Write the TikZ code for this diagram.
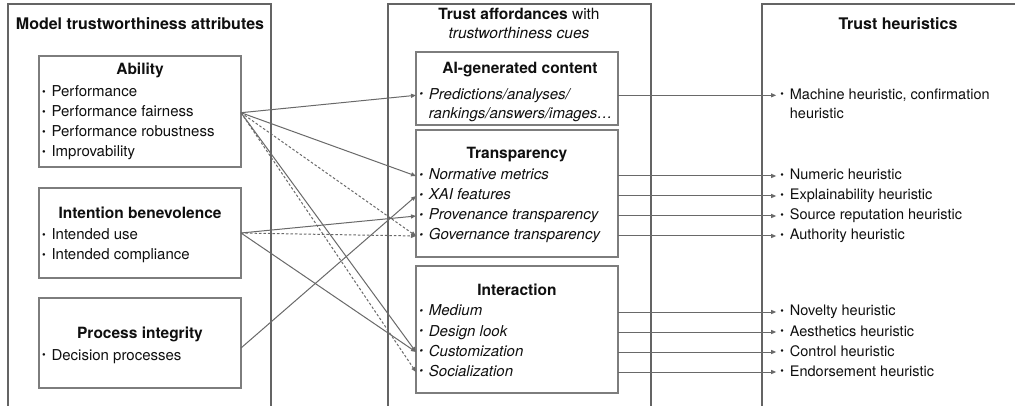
\documentclass[tikz,border=0pt]{standalone}
\usepackage{fontspec}
\setmainfont{TeX Gyre Heros}
\usepackage{graphicx}
\usepackage{xcolor}
\usetikzlibrary{arrows.meta, calc}
\definecolor{framegray}{RGB}{100,100,100}
\definecolor{boxgray}{RGB}{125,125,125}
\definecolor{linkgray}{RGB}{105,105,105}
\definecolor{inkblack}{RGB}{15,15,15}
\newcommand{\bul}{\makebox[9.5pt][l]{\raisebox{1.4pt}{\scalebox{0.7}{\textbullet}}}}

\begin{document}
\begin{tikzpicture}[
    x=1pt, y=-1pt,
    text=inkblack,
    panel/.style={draw=framegray, line width=1.7pt},
    groupbox/.style={rectangle, draw=boxgray, line width=1.2pt, inner sep=0pt, outer sep=0pt},
    paneltitle/.style={anchor=base, inner sep=0pt, font=\fontsize{16}{19}\selectfont\bfseries},
    boxtitle/.style={anchor=base, inner sep=0pt, font=\fontsize{15.5}{20}\selectfont\bfseries},
    item/.style={anchor=base west, inner sep=0pt, text height=11pt, text depth=3pt, font=\fontsize{15}{20}\selectfont},
    cue/.style={item, font=\fontsize{15}{20}\selectfont\itshape},
    heur/.style={item, inner xsep=4pt, font=\fontsize{14.5}{20}\selectfont},
    heurcont/.style={item, font=\fontsize{14.5}{20}\selectfont},
    link/.style={draw=linkgray, line width=1pt, -{Triangle[length=5pt, width=4pt]}},
    dashlink/.style={link, dash pattern=on 2.5pt off 2pt}
]

\fill[white] (0,0) rectangle (1015,406);
\useasboundingbox (0,0) rectangle (1015,406);

% Panels
\draw[panel] (8,410) -- (8,4) -- (271,4) -- (271,410);
\draw[panel] (388,410) -- (388,4) -- (651,4) -- (651,410);
\draw[panel] (762,410) -- (762,4) -- (1020,4);

\node[paneltitle] (attrtitle) at (140,29.3) {Model trustworthiness attributes};
\node[paneltitle, font=\fontsize{15.5}{19}\selectfont] (afftitle) at (519,19.3) {\textbf{Trust affordances} with};
\node[paneltitle, font=\fontsize{15.5}{19}\selectfont\itshape] (afftitleb) at (519,38.3) {trustworthiness cues};
\node[paneltitle] (heurtitle) at (898,29.3) {Trust heuristics};

% Attribute boxes
\node[groupbox, minimum width=202pt, minimum height=111pt] (ability) at (140,111.5) {};
\node[boxtitle] at (140,75) {Ability};
\node[item] (perf) at (41.8,96.7) {\bul Performance};
\node[item] (pfair) at (41.8,116.7) {\bul Performance fairness};
\node[item] (probust) at (41.8,136.7) {\bul Performance robustness};
\node[item] (improv) at (41.8,156.7) {\bul Improvability};

\node[groupbox, minimum width=202pt, minimum height=90pt] (intention) at (140,233) {};
\node[boxtitle] at (140,218.3) {Intention benevolence};
\node[item] (intuse) at (41.8,240) {\bul Intended use};
\node[item] (intcomp) at (41.8,260) {\bul Intended compliance};

\node[groupbox, minimum width=202pt, minimum height=90pt] (process) at (140,343) {};
\node[boxtitle] at (140,338.3) {Process integrity};
\node[item] (decision) at (41.8,360) {\bul Decision processes};

% Affordance boxes
\node[groupbox, minimum width=202pt, minimum height=73pt] (aicont) at (517,88.5) {};
\node[boxtitle] at (520,74) {AI-generated content};
\node[cue] (pred) at (419.2,99.3) {\bul Predictions/analyses/};
\node[cue] (predb) at (428.7,118.3) {rankings/answers/images…};

\node[groupbox, minimum width=202pt, minimum height=127pt] (transp) at (517,193.5) {};
\node[boxtitle] at (517,158.3) {Transparency};
\node[cue] (normative) at (419.2,180) {\bul Normative metrics};
\node[cue] (xai) at (419.2,200) {\bul XAI features};
\node[cue] (provenance) at (419.2,220) {\bul Provenance transparency};
\node[cue] (governance) at (419.2,240) {\bul Governance transparency};

\node[groupbox, minimum width=202pt, minimum height=127pt] (interact) at (517,329.5) {};
\node[boxtitle] at (517,295) {Interaction};
\node[cue] (medium) at (419.2,316) {\bul Medium};
\node[cue] (design) at (419.2,336) {\bul Design look};
\node[cue] (custom) at (419.2,356) {\bul Customization};
\node[cue] (social) at (419.2,376) {\bul Socialization};

% Heuristics
\node[heur] (machine) at (776.2,99.3) {\bul Machine heuristic, confirmation};
\node[heurcont] (machineb) at (789.7,118.3) {heuristic};
\node[heur] (numeric) at (776.2,180) {\bul Numeric heuristic};
\node[heur] (explain) at (776.2,200) {\bul Explainability heuristic};
\node[heur] (sourcerep) at (776.2,220) {\bul Source reputation heuristic};
\node[heur] (authority) at (776.2,240) {\bul Authority heuristic};
\node[heur] (novelty) at (776.2,316) {\bul Novelty heuristic};
\node[heur] (aesthetic) at (776.2,336) {\bul Aesthetics heuristic};
\node[heur] (control) at (776.2,356) {\bul Control heuristic};
\node[heur] (endorse) at (776.2,376) {\bul Endorsement heuristic};

% Attributes to affordances
\draw[link] (ability.east |- pfair) -- (aicont.west |- pred);
\draw[link] (ability.east |- pfair) -- (transp.west |- normative);
\draw[dashlink] (ability.east |- pfair) -- (transp.west |- governance);
\draw[link] (ability.east |- pfair) -- (interact.west |- custom);
\draw[dashlink] (ability.east |- pfair) -- (interact.west |- social);
\draw[link] ($(intention.east |- intuse)+(0,-3)$) -- (transp.west |- provenance);
\draw[dashlink] ($(intention.east |- intuse)+(0,-3)$) -- (transp.west |- governance);
\draw[link] ($(intention.east |- intuse)+(0,-3)$) -- (interact.west |- custom);
\draw[link] ($(process.east)+(0,5)$) -- (transp.west |- xai);

% Affordances to heuristics
\draw[link] (aicont.east |- pred) -- (machine.west);
\draw[link] (transp.east |- normative) -- (numeric.west);
\draw[link] (transp.east |- xai) -- (explain.west);
\draw[link] (transp.east |- provenance) -- (sourcerep.west);
\draw[link] (transp.east |- governance) -- (authority.west);
\draw[link] (interact.east |- medium) -- (novelty.west);
\draw[link] (interact.east |- design) -- (aesthetic.west);
\draw[link] (interact.east |- custom) -- (control.west);
\draw[link] (interact.east |- social) -- (endorse.west);

\end{tikzpicture}
\end{document}
